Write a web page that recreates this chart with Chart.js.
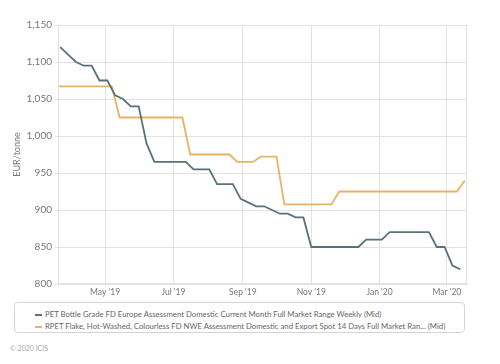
<!DOCTYPE html>
<html>
<head>
<meta charset="utf-8">
<script src="https://cdn.jsdelivr.net/npm/chart.js@4"></script>
<style>
  body { margin: 0; background: #fff; font-family: Lato, "Open Sans", sans-serif; }
  #wrap { position: relative; width: 500px; height: 364px; }
  #price-chart { position: absolute; left: 0; top: 0; }
  #legend {
    position: absolute; left: 14px; top: 302px; width: 449px; height: 29px;
    border: 1px solid #d4d4d4; border-radius: 4px; font-size: 7.75px; color: #666;
  }
  .item { position: absolute; left: 20px; white-space: nowrap; line-height: 10px; }
  .item span.sw { display: inline-block; width: 7px; height: 2px; margin-right: 3px; vertical-align: middle; }
  #copy { position: absolute; left: 10px; top: 344px; font-size: 7px; color: #aaa; }
</style>
</head>
<body>
<div id="wrap">
  <canvas id="price-chart" width="500" height="300"></canvas>
  <div id="legend"></div>
  <div id="copy">© 2020 ICIS</div>
</div>
<script>
// PET bottle grade, weekly (Fridays)
const petDates = [
  '2019-03-22', '2019-03-29', '2019-04-05', '2019-04-12', '2019-04-19', '2019-04-26',
  '2019-05-03', '2019-05-10', '2019-05-17', '2019-05-24', '2019-05-31',
  '2019-06-07', '2019-06-14', '2019-06-21', '2019-06-28',
  '2019-07-05', '2019-07-12', '2019-07-19', '2019-07-26',
  '2019-08-02', '2019-08-09', '2019-08-16', '2019-08-23', '2019-08-30',
  '2019-09-06', '2019-09-13', '2019-09-20', '2019-09-27',
  '2019-10-04', '2019-10-11', '2019-10-18', '2019-10-25',
  '2019-11-01', '2019-11-08', '2019-11-15', '2019-11-22', '2019-11-29',
  '2019-12-06', '2019-12-13', '2019-12-20', '2019-12-27',
  '2020-01-03', '2020-01-10', '2020-01-17', '2020-01-24', '2020-01-31',
  '2020-02-07', '2020-02-14', '2020-02-21', '2020-02-28',
  '2020-03-06', '2020-03-13'
];
const petValues = [
  1120, 1110, 1100, 1095, 1095, 1075,
  1075, 1055, 1050, 1040, 1040,
  990, 965, 965, 965,
  965, 965, 955, 955,
  955, 935, 935, 935, 915,
  910, 905, 905, 900,
  895, 895, 890, 890,
  850, 850, 850, 850, 850,
  850, 850, 860, 860,
  860, 870, 870, 870, 870,
  870, 870, 850, 850,
  825, 820
];

// RPET flake, weekly (Tuesdays)
const rpetDates = [
  '2019-03-19', '2019-03-26', '2019-04-02', '2019-04-09', '2019-04-16', '2019-04-23', '2019-04-30',
  '2019-05-07', '2019-05-14', '2019-05-21', '2019-05-28',
  '2019-06-04', '2019-06-11', '2019-06-18', '2019-06-25',
  '2019-07-02', '2019-07-09', '2019-07-16', '2019-07-23', '2019-07-30',
  '2019-08-06', '2019-08-13', '2019-08-20', '2019-08-27',
  '2019-09-03', '2019-09-10', '2019-09-17', '2019-09-24',
  '2019-10-01', '2019-10-08', '2019-10-15', '2019-10-22', '2019-10-29',
  '2019-11-05', '2019-11-12', '2019-11-19', '2019-11-26',
  '2019-12-03', '2019-12-10', '2019-12-17', '2019-12-24', '2019-12-31',
  '2020-01-07', '2020-01-14', '2020-01-21', '2020-01-28',
  '2020-02-04', '2020-02-11', '2020-02-18', '2020-02-25',
  '2020-03-03', '2020-03-10', '2020-03-17'
];
const rpetValues = [
  1067, 1067, 1067, 1067, 1067, 1067, 1067,
  1067, 1025, 1025, 1025,
  1025, 1025, 1025, 1025,
  1025, 1025, 975, 975, 975,
  975, 975, 975, 965,
  965, 965, 972, 972,
  972, 907.5, 907.5, 907.5, 907.5,
  907.5, 907.5, 907.5, 925,
  925, 925, 925, 925, 925,
  925, 925, 925, 925,
  925, 925, 925, 925,
  925, 925, 940
];

const seriesNames = [
  'PET Bottle Grade FD Europe Assessment Domestic Current Month Full Market Range Weekly (Mid)',
  'RPET Flake, Hot-Washed, Colourless FD NWE Assessment Domestic and Export Spot 14 Days Full Market Ran... (Mid)'
];
const seriesColors = ['#587279', '#e6b462'];

const tickDates = ['2019-05-01', '2019-07-01', '2019-09-01', '2019-11-01', '2020-01-01', '2020-03-01'];
const tickLabels = ["May '19", "Jul '19", "Sep '19", "Nov '19", "Jan '20", "Mar '20"];

function toPoints(dates, values) {
    var pts = [];
    for (let i = 0; i < dates.length; i++) {
        pts.push({ x: Date.parse(dates[i]), y: values[i] });
    }
    return pts;
}

const gridColor = '#e2e2e2';

const frame = {
    id: 'frame',
    afterDraw(chart) {
        const a = chart.chartArea;
        const c = chart.ctx;
        c.save();
        c.strokeStyle = gridColor;
        c.lineWidth = 1;
        c.strokeRect(a.left + 0.5, a.top + 0.5, a.right - a.left - 1, a.bottom - a.top - 1);
        c.restore();
    }
};

var ctx = document.getElementById('price-chart').getContext('2d');
window.priceChart = new Chart(ctx, {
    type: 'line',
    data: {
        datasets: [{
            label: seriesNames[0],
            data: toPoints(petDates, petValues),
            borderColor: seriesColors[0],
            borderWidth: 1.8,
            pointRadius: 0,
            tension: 0
        }, {
            label: seriesNames[1],
            data: toPoints(rpetDates, rpetValues),
            borderColor: seriesColors[1],
            borderWidth: 1.8,
            pointRadius: 0,
            tension: 0
        }]
    },
    options: {
        responsive: false,
        animation: false,
        layout: { padding: { left: 10, right: 33, top: 25, bottom: 0 } },
        scales: {
            x: {
                type: 'linear',
                min: Date.parse('2019-03-20'),
                max: Date.parse('2020-03-19'),
                afterBuildTicks(scale) {
                    scale.ticks = tickDates.map(d => ({ value: Date.parse(d) }));
                },
                afterFit(scale) { scale.height = 16; },
                ticks: {
                    autoSkip: false,
                    maxRotation: 0,
                    padding: 3,
                    color: '#777',
                    font: { family: 'Lato', size: 8.5 },
                    callback: (v, i) => tickLabels[i]
                },
                grid: { color: gridColor, drawTicks: false },
                border: { color: gridColor }
            },
            y: {
                min: 800,
                max: 1150,
                afterFit(scale) { scale.width = 48; },
                ticks: {
                    stepSize: 50,
                    padding: 3,
                    color: '#777',
                    font: { family: 'Lato', size: 10 },
                    callback: v => v.toLocaleString('en-US')
                },
                grid: { color: gridColor, tickLength: 3 },
                border: { color: gridColor },
                title: {
                    display: true,
                    text: 'EUR/tonne',
                    color: '#777',
                    padding: { top: 2, bottom: 2 },
                    font: { family: 'Lato', size: 9 }
                }
            }
        },
        plugins: {
            legend: { display: false },
            tooltip: { enabled: false }
        }
    },
    plugins: [frame]
});

// legend below the chart
var legend = document.getElementById('legend');
for (let i = 0; i < seriesNames.length; i++) {
    let row = document.createElement('div');
    row.className = 'item';
    row.style.top = (i === 0 ? 6 : 18) + 'px';
    row.innerHTML = '<span class="sw" style="background:' + seriesColors[i] + '"></span>' + seriesNames[i];
    legend.appendChild(row);
}
</script>
</body>
</html>
